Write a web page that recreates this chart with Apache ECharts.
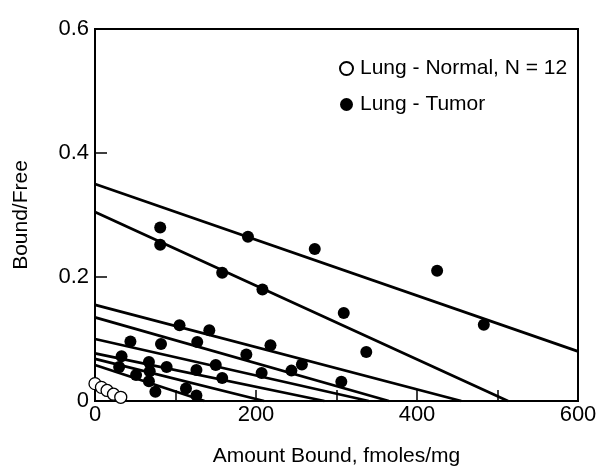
<!DOCTYPE html>
<html>
<head>
<meta charset="utf-8">
<script src="https://cdn.jsdelivr.net/npm/echarts@6/dist/echarts.min.js"></script>
<style>
  html, body { margin: 0; padding: 0; background: #fff; }
  #chart { width: 601px; height: 476px; }
</style>
</head>
<body>
<div id="chart"></div>
<script>
// 正常肺组织 (open circles)
const normalX = [0, 8, 15, 23, 32];
const normalY = [0.028, 0.022, 0.017, 0.011, 0.006];

// 肺肿瘤 (filled dots)
const tumorX = [81, 81, 190, 273, 158, 208, 425, 483, 309, 337, 306, 257, 218, 188, 244, 207,
    105, 142, 44, 127, 82, 33, 67, 89, 150, 126, 30, 51, 158, 67, 75, 113, 126, 68];
const tumorY = [0.28, 0.252, 0.265, 0.245, 0.207, 0.18, 0.21, 0.123, 0.142, 0.079, 0.031, 0.059, 0.09, 0.075, 0.049, 0.045,
    0.122, 0.114, 0.096, 0.095, 0.092, 0.072, 0.063, 0.055, 0.058, 0.05, 0.055, 0.042, 0.037, 0.032, 0.015, 0.02, 0.009, 0.048];

// Scatchard fit lines: start at x = 0, end point
const lineStartY = [0.35, 0.305, 0.155, 0.135, 0.100, 0.077, 0.068, 0.058];
const lineEndX   = [600, 513, 455, 365, 340, 285, 210, 136];
const lineEndY   = [0.08, 0, 0, 0, 0, 0, 0, 0];

const xTicks = [0, 200, 400, 600];
const yTicks = [0, 0.2, 0.4, 0.6];

const FONT = 'Liberation Sans';

const chart = echarts.init(document.getElementById('chart'));

const fitSeries = lineStartY.map(function (y0, i) {
    return {
        type: 'line',
        data: [[0, y0], [lineEndX[i], lineEndY[i]]],
        symbol: 'none',
        silent: true,
        lineStyle: { color: '#000', width: 2.8 },
        z: 2
    };
});

chart.setOption({
    animation: false,
    textStyle: { fontFamily: FONT },
    grid: {
        left: 95, right: 23, top: 29, bottom: 75,
        show: true,
        borderColor: '#000',
        borderWidth: 2
    },
    legend: {
        data: ['Lung - Normal, N = 12', 'Lung - Tumor'],
        orient: 'vertical',
        left: 334,
        top: 53,
        itemGap: 15,
        itemWidth: 13,
        itemHeight: 13,
        textStyle: { fontFamily: FONT, fontSize: 21, color: '#000', padding: [0, 0, 0, 2] }
    },
    xAxis: {
        type: 'value',
        min: 0, max: 600, interval: 100,
        name: 'Amount Bound, fmoles/mg',
        nameLocation: 'middle',
        nameGap: 45,
        nameTextStyle: { fontFamily: FONT, fontSize: 21, color: '#000' },
        axisLine: { show: true, lineStyle: { color: '#000', width: 2 } },
        axisTick: { show: true, inside: true, length: 11, lineStyle: { color: '#000', width: 1.5 } },
        axisLabel: {
            fontFamily: FONT, fontSize: 22, color: '#000', margin: 3,
            formatter: function (v) { return xTicks.indexOf(v) >= 0 ? String(v) : ''; }
        },
        splitLine: { show: false }
    },
    yAxis: {
        type: 'value',
        min: 0, max: 0.6, interval: 0.2,
        name: 'Bound/Free',
        nameLocation: 'middle',
        nameGap: 63,
        nameTextStyle: { fontFamily: FONT, fontSize: 21, color: '#000' },
        axisLine: { show: true, lineStyle: { color: '#000', width: 2 } },
        axisTick: { show: true, inside: true, length: 12, lineStyle: { color: '#000', width: 1.5 } },
        axisLabel: {
            fontFamily: FONT, fontSize: 22, color: '#000', margin: 6,
            formatter: function (v) {
                const t = yTicks.find(function (k) { return Math.abs(k - v) < 1e-9; });
                return t === undefined ? '' : String(t);
            }
        },
        splitLine: { show: false }
    },
    series: fitSeries.concat([
        {
            name: 'Lung - Normal, N = 12',
            type: 'scatter',
            data: normalX.map(function (x, i) { return [x, normalY[i]]; }),
            symbol: 'circle',
            symbolSize: 12,
            itemStyle: { color: '#fff', borderColor: '#000', borderWidth: 1.3, opacity: 1 },
            z: 4
        },
        {
            name: 'Lung - Tumor',
            type: 'scatter',
            data: tumorX.map(function (x, i) { return [x, tumorY[i]]; }),
            symbol: 'circle',
            symbolSize: 12,
            itemStyle: { color: '#000', opacity: 1 },
            z: 3
        }
    ])
});
</script>
</body>
</html>
